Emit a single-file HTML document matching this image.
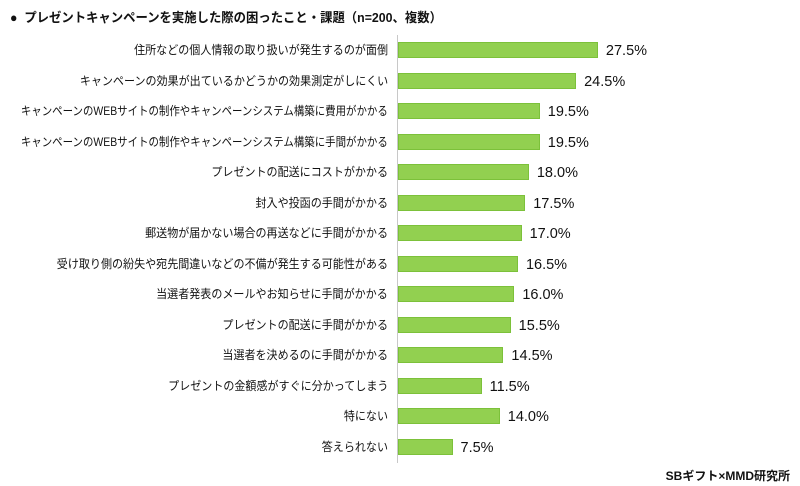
<!DOCTYPE html>
<html><head><meta charset="utf-8"><style>
body{margin:0;width:800px;height:486px;background:#fff;position:relative;overflow:hidden;font-family:"Liberation Sans","Noto Sans CJK JP",sans-serif;color:#111}
.t{position:absolute;left:10px;top:7px;font-size:13px;font-weight:bold;white-space:nowrap;transform:scaleX(0.95);transform-origin:left center}
.ax{position:absolute;left:397px;top:35px;width:1px;height:428px;background:#c8c8c8}
.l{position:absolute;right:412px;font-size:12px;white-space:nowrap;line-height:16px;transform:scaleX(0.92);transform-origin:right center}
.b{position:absolute;left:398px;height:16px;background:#92d050;box-sizing:border-box;border:1px solid #7cc13a}
.v{position:absolute;font-size:14.5px;line-height:16px;white-space:nowrap}
.f{position:absolute;right:10px;top:467px;font-size:12px;font-weight:bold}
</style></head><body>
<div class="t">●&nbsp; プレゼントキャンペーンを実施した際の困ったこと・課題（n=200、複数）</div>
<div class="ax"></div>
<div id="c"></div>
<div class="f">SBギフト×MMD研究所</div>
<script>
var d=[["住所などの個人情報の取り扱いが発生するのが面倒",27.5],["キャンペーンの効果が出ているかどうかの効果測定がしにくい",24.5],["キャンペーンのWEBサイトの制作やキャンペーンシステム構築に費用がかかる",19.5],["キャンペーンのWEBサイトの制作やキャンペーンシステム構築に手間がかかる",19.5],["プレゼントの配送にコストがかかる",18.0],["封入や投函の手間がかかる",17.5],["郵送物が届かない場合の再送などに手間がかかる",17.0],["受け取り側の紛失や宛先間違いなどの不備が発生する可能性がある",16.5],["当選者発表のメールやお知らせに手間がかかる",16.0],["プレゼントの配送に手間がかかる",15.5],["当選者を決めるのに手間がかかる",14.5],["プレゼントの金額感がすぐに分かってしまう",11.5],["特にない",14.0],["答えられない",7.5]];
var h="";d.forEach(function(r,i){var y=42+i*30.54,w=r[1]*7.27;var s=(i==2||i==3)?' transform:scaleX(0.87);':'';
h+='<div class="l" style="top:'+y+'px;'+s+'">'+r[0]+'</div><div class="b" style="top:'+y+'px;width:'+w+'px"></div><div class="v" style="top:'+(y+1)+'px;left:'+(398+w+8)+'px">'+r[1].toFixed(1)+'%</div>';});
document.getElementById("c").innerHTML=h;
</script>
</body></html>
